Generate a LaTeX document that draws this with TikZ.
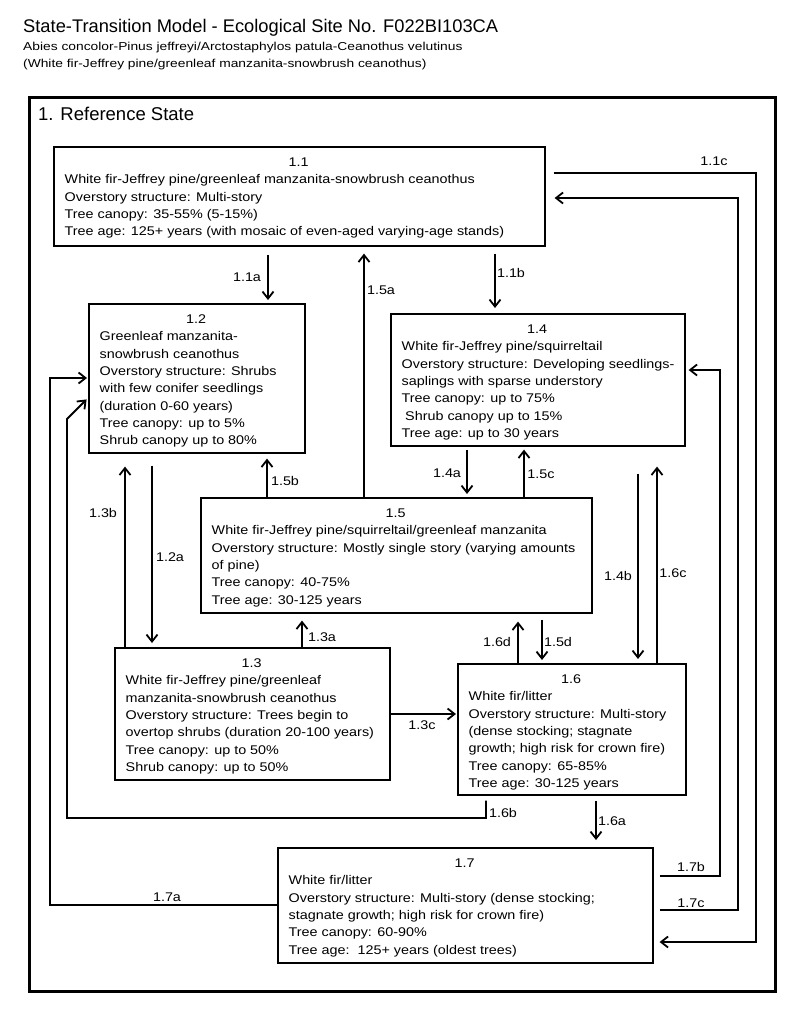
\documentclass[tikz,border=0pt]{standalone}
\usepackage{fontspec}
\setmainfont{Liberation Sans}
\newfontfamily\boxfont{Liberation Sans}[FakeStretch=1.14]
\newfontfamily\subfont{Liberation Sans}[FakeStretch=1.2]
\usetikzlibrary{arrows.meta}
\newcommand{\stbody}[3]{\parbox[t]{#1}{\centering #2\par\raggedright #3}}
\tikzset{
  statebox/.style={draw, line width=1.6pt, inner sep=0pt, anchor=north west},
  bodytext/.style={anchor=base west, inner sep=0pt, font=\boxfont\fontsize{12.6}{17.3}\selectfont},
  lbl/.style={inner sep=0pt, font=\boxfont\fontsize{12.6}{14}\selectfont},
  arr/.style={line width=1.8pt, -{Straight Barb[length=7pt,width=11pt,line width=1.8pt]}},
}
\begin{document}
\begin{tikzpicture}[x=1pt,y=-1pt]
\fill[white] (0,0) rectangle (800,1028);
\useasboundingbox (0,0) rectangle (800,1028);

% titles
\node[anchor=base west, inner sep=0pt, font=\fontsize{18.3}{20}\selectfont] (title) at (23,32.5) {State-Transition Model - Ecological Site No. F022BI103CA};
\node[anchor=base west, inner sep=0pt, font=\subfont\fontsize{11.5}{13}\selectfont] (sub1) at (23,50.6) {Abies concolor-Pinus jeffreyi/Arctostaphylos patula-Ceanothus velutinus};
\node[anchor=base west, inner sep=0pt, font=\subfont\fontsize{11.5}{13}\selectfont] (sub2) at (23,67.6) {(White fir-Jeffrey pine/greenleaf manzanita-snowbrush ceanothus)};

% outer state box
\node[draw, line width=2.8pt, inner sep=0pt, anchor=north west, minimum width=746pt, minimum height=894pt] (outer) at (28,96) {};
\node[anchor=base west, inner sep=0pt, font=\fontsize{18.5}{20}\selectfont] (refstate) at (38,120.6) {1. Reference State};

% state boxes
\node[statebox, minimum width=491pt, minimum height=99pt] (b11) at (53,146) {};
\node[statebox, minimum width=216pt, minimum height=149pt] (b12) at (88,303) {};
\node[statebox, minimum width=294pt, minimum height=132pt] (b14) at (390,313) {};
\node[statebox, minimum width=391pt, minimum height=115pt] (b15) at (200,497) {};
\node[statebox, minimum width=275pt, minimum height=132pt] (b13) at (114,647) {};
\node[statebox, minimum width=228pt, minimum height=131pt] (b16) at (457,663) {};
\node[statebox, minimum width=375pt, minimum height=115pt] (b17) at (277,847) {};

% box texts
\node[bodytext] (t11) at ([xshift=11.5pt,yshift=-20.5pt]b11.north west) {\stbody{468pt}{1.1}{%
\mbox{White fir-Jeffrey pine/greenleaf manzanita-snowbrush ceanothus}\\
\mbox{Overstory structure: Multi-story}\\
\mbox{Tree canopy: 35-55\% (5-15\%)}\\
\mbox{Tree age: 125+ years (with mosaic of even-aged varying-age stands)}}};

\node[bodytext] (t12) at ([xshift=11.5pt,yshift=-20.5pt]b12.north west) {\stbody{193pt}{1.2}{%
\mbox{Greenleaf manzanita-}\\
\mbox{snowbrush ceanothus}\\
\mbox{Overstory structure: Shrubs}\\
\mbox{with few conifer seedlings}\\
\mbox{(duration 0-60 years)}\\
\mbox{Tree canopy: up to 5\%}\\
\mbox{Shrub canopy up to 80\%}}};

\node[bodytext] (t14) at ([xshift=11.5pt,yshift=-20.5pt]b14.north west) {\stbody{271pt}{1.4}{%
\mbox{White fir-Jeffrey pine/squirreltail}\\
\mbox{Overstory structure: Developing seedlings-}\\
\mbox{saplings with sparse understory}\\
\mbox{Tree canopy: up to 75\%}\\
\mbox{\hspace{3.5pt}Shrub canopy up to 15\%}\\
\mbox{Tree age: up to 30 years}}};

\node[bodytext] (t15) at ([xshift=11.5pt,yshift=-20.5pt]b15.north west) {\stbody{368pt}{1.5}{%
\mbox{White fir-Jeffrey pine/squirreltail/greenleaf manzanita}\\
\mbox{Overstory structure: Mostly single story (varying amounts}\\
\mbox{of pine)}\\
\mbox{Tree canopy: 40-75\%}\\
\mbox{Tree age: 30-125 years}}};

\node[bodytext] (t13) at ([xshift=11.5pt,yshift=-20.5pt]b13.north west) {\stbody{252pt}{1.3}{%
\mbox{White fir-Jeffrey pine/greenleaf}\\
\mbox{manzanita-snowbrush ceanothus}\\
\mbox{Overstory structure: Trees begin to}\\
\mbox{overtop shrubs (duration 20-100 years)}\\
\mbox{Tree canopy: up to 50\%}\\
\mbox{Shrub canopy: up to 50\%}}};

\node[bodytext] (t16) at ([xshift=11.5pt,yshift=-20.5pt]b16.north west) {\stbody{205pt}{1.6}{%
\mbox{White fir/litter}\\
\mbox{Overstory structure: Multi-story}\\
\mbox{(dense stocking; stagnate}\\
\mbox{growth; high risk for crown fire)}\\
\mbox{Tree canopy: 65-85\%}\\
\mbox{Tree age: 30-125 years}}};

\node[bodytext] (t17) at ([xshift=11.5pt,yshift=-20.5pt]b17.north west) {\stbody{352pt}{1.7}{%
\mbox{White fir/litter}\\
\mbox{Overstory structure: Multi-story (dense stocking;}\\
\mbox{stagnate growth; high risk for crown fire)}\\
\mbox{Tree canopy: 60-90\%}\\
\mbox{Tree age:\ \ 125+ years (oldest trees)}}};

% helper coordinates
\foreach \xx in {50,67,125,152,267,268,302,364,467,486,495,518,524,542,596,638,657,720,738,756}
  \coordinate (x\xx) at (\xx,0);
\foreach \yy in {173,198,370,378,398,419,714,818,876,905,910,942}
  \coordinate (y\yy) at (0,\yy);

% vertical transitions
\draw[arr, shorten <=8pt, shorten >=3pt] (x268 |- b11.south) -- (x268 |- b12.north);
\draw[arr, shorten <=7pt, shorten >=5pt] (x495 |- b11.south) -- (x495 |- b14.north);
\draw[arr, shorten >=7pt] (x364 |- b15.north) -- (x364 |- b11.south);
\draw[arr, shorten <=12pt, shorten >=4pt] (x152 |- b12.south) -- (x152 |- b13.north);
\draw[arr, shorten >=13pt] (x125 |- b13.north) -- (x125 |- b12.south);
\draw[arr, shorten >=5pt] (x267 |- b15.north) -- (x267 |- b12.south);
\draw[arr, shorten <=3pt, shorten >=3pt] (x467 |- b14.south) -- (x467 |- b15.north);
\draw[arr, shorten >=3pt] (x524 |- b15.north) -- (x524 |- b14.south);
\draw[arr, shorten >=7pt] (x302 |- b13.north) -- (x302 |- b15.south);
\draw[arr, shorten >=8pt] (x518 |- b16.north) -- (x518 |- b15.south);
\draw[arr, shorten <=6pt, shorten >=3pt] (x542 |- b15.south) -- (x542 |- b16.north);
\draw[arr, shorten <=27pt, shorten >=4pt] (x638 |- b14.south) -- (x638 |- b16.north);
\draw[arr, shorten >=20pt] (x657 |- b16.north) -- (x657 |- b14.south);
\draw[arr, shorten <=5pt, shorten >=7pt] (x596 |- b16.south) -- (x596 |- b17.north);
\draw[arr, shorten >=1pt] (b13.east |- y714) -- (b16.west |- y714);

% routed transitions
\draw[arr, shorten <=8pt, shorten >=6pt] (b11.east |- y173) -- (x756 |- y173) -- (x756 |- y942) -- (b17.east |- y942);
\draw[arr, shorten <=6pt, shorten >=9pt] (b17.east |- y910) -- (x738 |- y910) -- (x738 |- y198) -- (b11.east |- y198);
\draw[arr, shorten <=6pt, shorten >=3pt] (b17.east |- y876) -- (x720 |- y876) -- (x720 |- y370) -- (b14.east |- y370);
\draw[arr, shorten >=1pt] (b17.west |- y905) -- (x50 |- y905) -- (x50 |- y378) -- (b12.west |- y378);
\draw[arr, shorten <=5pt, shorten >=2pt] (x486 |- b16.south) -- (x486 |- y818) -- (x67 |- y818) -- (x67 |- y419) -- (b12.west |- y398);

% labels
\node[lbl] (l11a) at (247,277) {1.1a};
\node[lbl] (l11b) at (511,273) {1.1b};
\node[lbl] (l11c) at (714,161) {1.1c};
\node[lbl] (l15a) at (381,290) {1.5a};
\node[lbl] (l12a) at (170,557) {1.2a};
\node[lbl] (l13b) at (103,513) {1.3b};
\node[lbl] (l15b) at (285,481) {1.5b};
\node[lbl] (l14a) at (447,473) {1.4a};
\node[lbl] (l15c) at (541,474) {1.5c};
\node[lbl] (l13a) at (322,637) {1.3a};
\node[lbl] (l16d) at (497,642) {1.6d};
\node[lbl] (l15d) at (558,642) {1.5d};
\node[lbl] (l14b) at (618,576) {1.4b};
\node[lbl] (l16c) at (673,573) {1.6c};
\node[lbl] (l13c) at (422,725) {1.3c};
\node[lbl] (l16b) at (503,813) {1.6b};
\node[lbl] (l16a) at (612,821) {1.6a};
\node[lbl] (l17a) at (167,897) {1.7a};
\node[lbl] (l17b) at (691,867) {1.7b};
\node[lbl] (l17c) at (691,903) {1.7c};
\end{tikzpicture}
\end{document}
